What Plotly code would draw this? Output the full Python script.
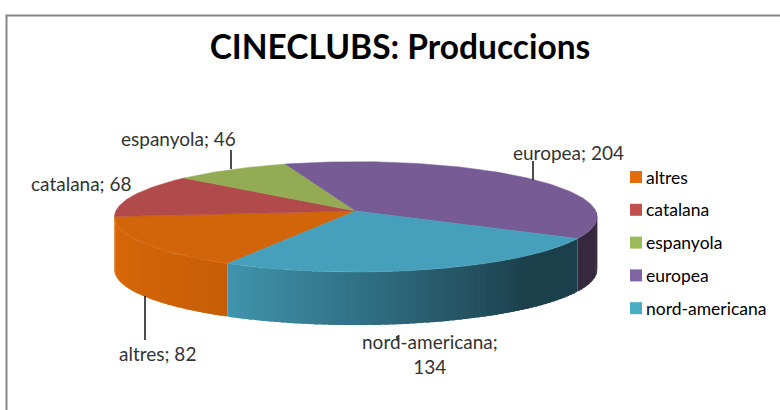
import math
import plotly.graph_objects as go

categories = ["altres", "catalana", "espanyola", "europea", "nord-americana"]
values = [82, 68, 46, 204, 134]
top_colors = ["#D2640A", "#B14A4A", "#93AC54", "#775B94", "#46A0BB"]
legend_colors = ["#E46C0A", "#C0504D", "#9BBB59", "#8064A2", "#4BACC6"]
side_left = ["#DB6A0A", "#7A3333", "#65763A", "#36283F", "#4095AE"]
side_right = ["#C75E07", "#7A3333", "#65763A", "#36283F", "#1C3F4C"]

FONT = "Lato"
START = 209.0
CX, CY, R, PERSP, TILT, DEPTH = 355.8, 211.0, 240.0, 0.106, -32.2, 53.0


def project(theta):
    t = math.radians(theta)
    px, py = math.sin(t), math.cos(t)
    w = PERSP * py + 1
    return CX + R * px / w, (TILT * py + CY) / w


def arc(a, b, step=1.0):
    n = max(2, int(abs(b - a) / step) + 1)
    return [project(a + (b - a) * i / (n - 1)) for i in range(n)]


def mix(c1, c2, f):
    f = max(0.0, min(1.0, f))
    p = [int(c1[i:i + 2], 16) for i in (1, 3, 5)]
    q = [int(c2[i:i + 2], 16) for i in (1, 3, 5)]
    return "#%02X%02X%02X" % tuple(round(u + (v - u) * f) for u, v in zip(p, q))


fig = go.Figure()
total = sum(values)
angles = [START]
for v in values:
    angles.append(angles[-1] + v / total * 360)

# rim: the front of the disc; strips overlap so no seams show
for i, (a, b) in enumerate(zip(angles, angles[1:])):
    ranges = []
    for k in (-360, 0, 360):
        lo, hi = max(a + k, 90), min(b + k, 265)
        if lo < hi:
            ranges.append((lo, hi))
    for lo, hi in ranges:
        n = max(1, int((hi - lo) / 1.5))
        for s in range(n):
            t0 = lo + (hi - lo) * s / n
            t1 = lo + (hi - lo) * (s + 1) / n
            t1x = min(hi, t1 + 1.0)
            p = arc(t0, t1x, 0.5)
            xs = [q[0] for q in p] + [q[0] for q in reversed(p)]
            ys = [q[1] for q in p] + [q[1] + DEPTH for q in reversed(p)]
            f = (hi - (t0 + t1) / 2) / (hi - lo)
            if categories[i] == "nord-americana":
                f = min(1.0, f * 1.3)
            col = mix(side_left[i], side_right[i], f)
            fig.add_trace(go.Scatter(x=xs, y=ys, mode="lines", fill="toself", fillcolor=col,
                                     line=dict(color=col, width=0), showlegend=False,
                                     hoverinfo="skip"))

# top faces
for i, (a, b) in enumerate(zip(angles, angles[1:])):
    p = arc(a, b)
    xs = [CX] + [q[0] for q in p] + [CX]
    ys = [CY] + [q[1] for q in p] + [CY]
    fig.add_trace(go.Scatter(x=xs, y=ys, mode="lines", fill="toself", fillcolor=top_colors[i],
                             line=dict(color=top_colors[i], width=0.5), showlegend=False,
                             hoverinfo="skip"))

# legend
LEG_X, LEG_TX, LEG_Y0, LEG_DY = 636, 647, 177, 32.8
leg_y = [LEG_Y0 + LEG_DY * i for i in range(len(categories))]
fig.add_trace(go.Scatter(x=[LEG_X] * len(categories), y=leg_y, mode="markers", showlegend=False,
                         hoverinfo="skip",
                         marker=dict(symbol="square", size=12, color=legend_colors)))

labels = [
    (f"{categories[2]}; {values[2]}", 178, 138),
    (f"{categories[3]}; {values[3]}", 568, 152),
    (f"{categories[1]}; {values[1]}", 81, 183),
    (f"{categories[0]}; {values[0]}", 157, 353),
    (f"{categories[4]};<br>{values[4]}", 430, 354),
]
annotations = [
    dict(x=x, y=y, xref="x", yref="y", text=t, showarrow=False, xanchor="center", yanchor="middle",
         font=dict(family=FONT, size=19, color="#333333"), align="center")
    for t, x, y in labels
]
annotations += [
    dict(x=LEG_TX, y=y, xref="x", yref="y", text=c, showarrow=False, xanchor="left", yanchor="middle",
         xshift=-3, font=dict(family=FONT, size=17.5, color="#000000"))
    for c, y in zip(categories, leg_y)
]

leaders = [(231, 150, 231, 169), (533, 161, 533, 180), (145, 296, 145, 340), (397, 336, 397, 340)]
shapes = [dict(type="line", xref="x", yref="y", x0=a, y0=b, x1=c, y1=d,
               line=dict(color="#111111", width=1.5)) for a, b, c, d in leaders]
shapes.append(dict(type="path", xref="x", yref="y", path="M 6.5,410 L 6.5,15.5 L 780,15.5",
                   line=dict(color="#868686", width=2)))

fig.update_layout(
    width=780, height=410, margin=dict(l=0, r=0, t=0, b=0),
    paper_bgcolor="white", plot_bgcolor="white",
    title=dict(text="<b>CINECLUBS: Produccions</b>", x=400 / 780, y=1 - 47 / 410, xanchor="center",
               yanchor="middle", font=dict(family=FONT, size=33.5, color="#000000")),
    xaxis=dict(range=[0, 780], visible=False, fixedrange=True),
    yaxis=dict(range=[410, 0], visible=False, fixedrange=True),
    showlegend=False,
    annotations=annotations, shapes=shapes,
)
fig.write_html("out.html", config={"displayModeBar": False},
               post_script="document.body.style.margin='0';document.body.style.overflow='hidden';")
